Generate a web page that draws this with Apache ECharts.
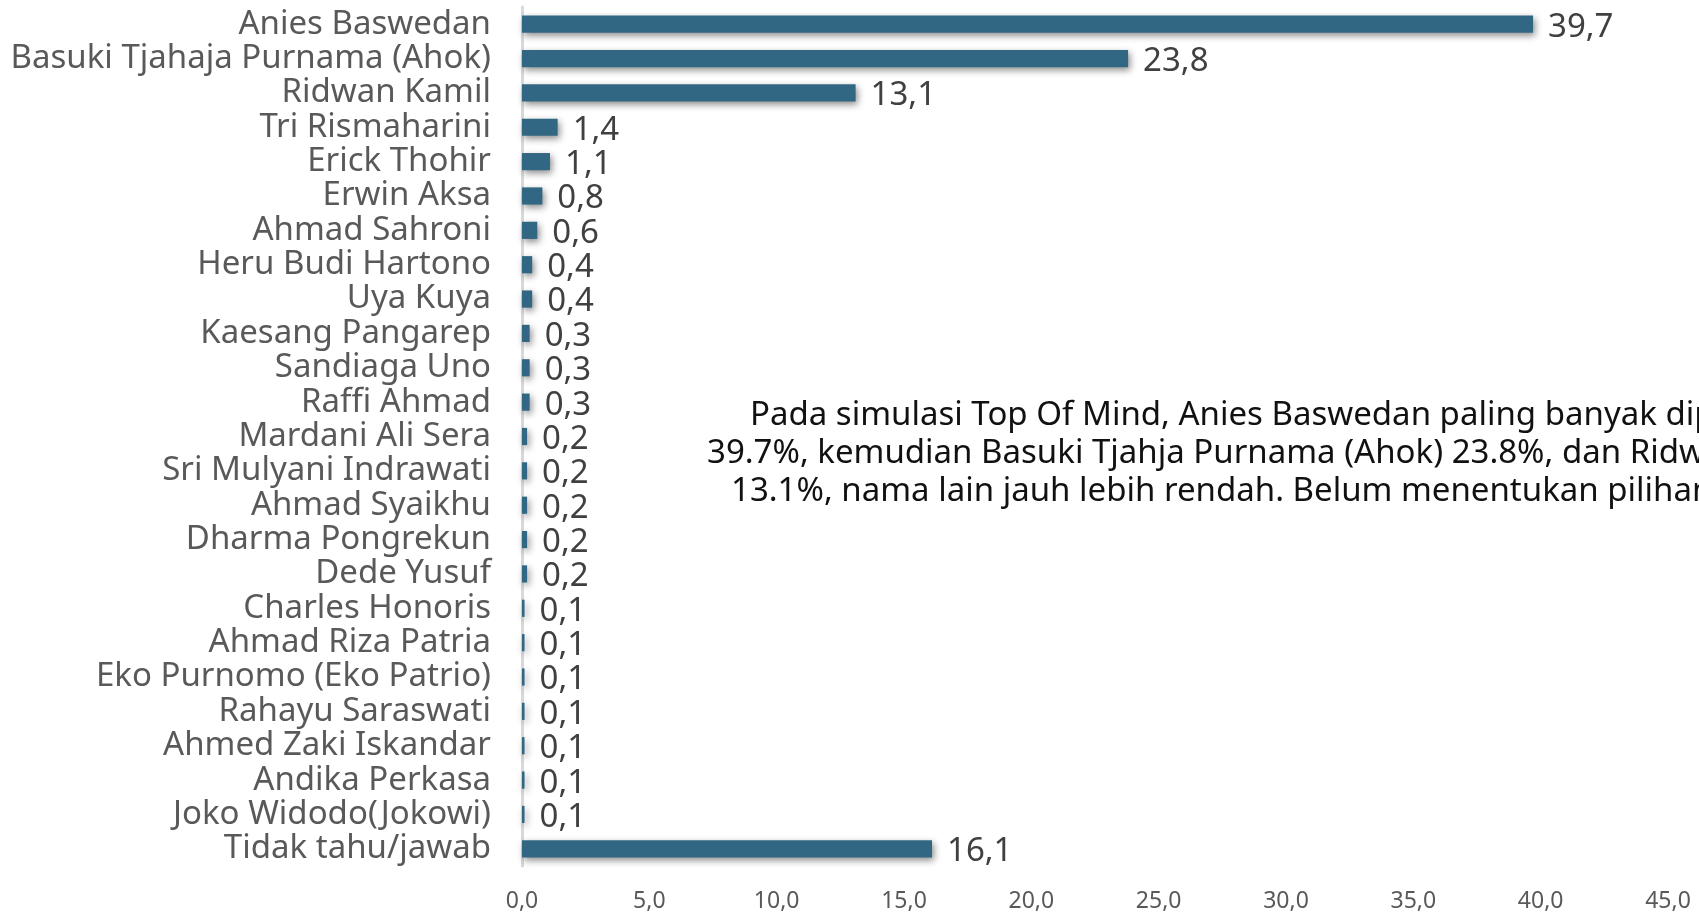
<!DOCTYPE html>
<html>
<head>
<meta charset="utf-8">
<title>Top Of Mind</title>
<script src="https://cdn.jsdelivr.net/npm/echarts@6/dist/echarts.min.js"></script>
<style>
  html, body { margin: 0; padding: 0; background: #fff; }
  #chart { width: 1699px; height: 913px; }
</style>
</head>
<body>
<div id="chart"></div>
<script>
  const categories = [
    'Anies Baswedan',
    'Basuki Tjahaja Purnama (Ahok)',
    'Ridwan Kamil',
    'Tri Rismaharini',
    'Erick Thohir',
    'Erwin Aksa',
    'Ahmad Sahroni',
    'Heru Budi Hartono',
    'Uya Kuya',
    'Kaesang Pangarep',
    'Sandiaga Uno',
    'Raffi Ahmad',
    'Mardani Ali Sera',
    'Sri Mulyani Indrawati',
    'Ahmad Syaikhu',
    'Dharma Pongrekun',
    'Dede Yusuf',
    'Charles Honoris',
    'Ahmad Riza Patria',
    'Eko Purnomo (Eko Patrio)',
    'Rahayu Saraswati',
    'Ahmed Zaki Iskandar',
    'Andika Perkasa',
    'Joko Widodo(Jokowi)',
    'Tidak tahu/jawab',
  ]
  const values = [
    39.7, 23.8, 13.1, 1.4, 1.1, 0.8, 0.6, 0.4, 0.4, 0.3, 0.3, 0.3, 0.2,
    0.2, 0.2, 0.2, 0.2, 0.1, 0.1, 0.1, 0.1, 0.1, 0.1, 0.1, 16.1,
  ]
  // tick labels: 0,0 .. 45,0
  const axisMin = 0
  const axisMax = 45
  const axisStep = 5
  const noteLines = [
    'Pada simulasi Top Of Mind, Anies Baswedan paling banyak dipilih',
    '39.7%, kemudian Basuki Tjahja Purnama (Ahok) 23.8%, dan Ridwan Kamil',
    '13.1%, nama lain jauh lebih rendah. Belum menentukan pilihan 16.1%.',
  ]

  const font = '"Noto Sans", "DejaVu Sans", sans-serif'
  const comma = v => Number(v).toFixed(1).replace('.', ',')

  const option = {
    animation: false,
    backgroundColor: '#fff',
    grid: {
      left: 522,
      right: 31,
      top: 7,
      bottom: 47,
    },
    xAxis: {
      type: 'value',
      min: axisMin,
      max: axisMax,
      interval: axisStep,
      splitLine: { show: false },
      axisLine: { show: false },
      axisTick: { show: false },
      axisLabel: {
        margin: 24,
        fontSize: 23,
        fontFamily: font,
        color: '#595959',
        formatter: comma,
      },
    },
    yAxis: {
      type: 'category',
      inverse: true,
      data: categories,
      axisTick: { show: false },
      axisLine: {
        show: true,
        lineStyle: { color: '#d9d9d9', width: 3 },
      },
      axisLabel: {
        interval: 0,
        margin: 31,
        fontSize: 33,
        fontFamily: font,
        color: '#595959',
        padding: [0, 0, 6, 0],
      },
    },
    series: [
      {
        type: 'bar',
        data: values,
        barCategoryGap: '50%',
        itemStyle: {
          color: '#326784',
          shadowColor: 'rgba(0,0,0,0.45)',
          shadowBlur: 7,
          shadowOffsetX: 2,
          shadowOffsetY: 3,
        },
        label: {
          show: true,
          position: 'right',
          distance: 15,
          offset: [0, 3],
          fontSize: 33,
          fontFamily: font,
          color: '#404040',
          formatter: p => comma(p.value),
        },
      },
    ],
    graphic: [
      { type: 'text', left: 750, top: 399, style: { text: noteLines[0], font: '33px ' + font, fill: '#111' } },
      { type: 'text', left: 707, top: 437, style: { text: noteLines[1], font: '33px ' + font, fill: '#111' } },
      { type: 'text', left: 731, top: 475, style: { text: noteLines[2], font: '33px ' + font, fill: '#111' } },
    ],
  }

  const chart = echarts.init(document.getElementById('chart'))
  chart.setOption(option)
</script>
</body>
</html>
